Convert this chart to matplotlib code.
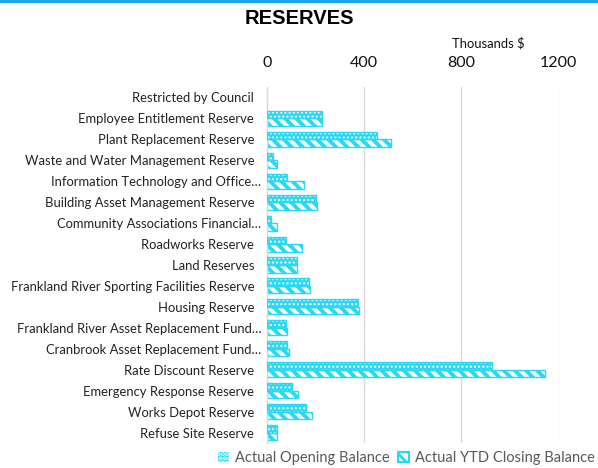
import matplotlib
matplotlib.use("Agg")
import matplotlib.pyplot as plt
import numpy as np
from matplotlib.patches import Patch
from matplotlib.transforms import ScaledTranslation

categories = [
    "Restricted by Council",
    "Employee Entitlement Reserve",
    "Plant Replacement Reserve",
    "Waste and Water Management Reserve",
    "Information Technology and Office…",
    "Building Asset Management Reserve",
    "Community Associations Financial…",
    "Roadworks Reserve",
    "Land Reserves",
    "Frankland River Sporting Facilities Reserve",
    "Housing Reserve",
    "Frankland River Asset Replacement Fund…",
    "Cranbrook Asset Replacement Fund…",
    "Rate Discount Reserve",
    "Emergency Response Reserve",
    "Works Depot Reserve",
    "Refuse Site Reserve",
]
opening = [0, 226, 452, 27, 85, 203, 18, 79, 123, 174, 374, 79, 85, 925, 106, 162, 41]
closing = [0, 226, 510, 41, 155, 206, 41, 147, 126, 177, 381, 82, 90, 1145, 127, 185, 44]
ticks = [0, 400, 800, 1200]
series_names = ["Actual Opening Balance", "Actual YTD Closing Balance"]

CYAN = "#2ad8f4"
FONT = ["Lato", "DejaVu Sans"]
plt.rcParams["font.family"] = FONT

fig = plt.figure(figsize=(5.98, 4.68), dpi=100)
ax = fig.add_axes([266.7 / 598, 1 - 443 / 468, (558.7 - 266.7) / 598, (443 - 87) / 468])

y = np.arange(len(categories))
h = 0.36
lw_open = [1.0 if v > 0 else 0 for v in opening]
lw_close = [1.0 if v > 0 else 0 for v in closing]

with plt.rc_context({"hatch.linewidth": 1.0}):
    ax.barh(y - h / 2, opening, height=h, color=CYAN, edgecolor="none", zorder=2)
    ax.barh(y - h / 2, opening, height=h, facecolor="none", edgecolor="white",
            hatch="....", linewidth=0, zorder=3)
    ax.barh(y - h / 2, opening, height=h, facecolor="none", edgecolor=CYAN,
            linewidth=lw_open, zorder=4)
with plt.rc_context({"hatch.linewidth": 2.8}):
    ax.barh(y + h / 2, closing, height=h, facecolor="white", edgecolor=CYAN,
            hatch="\\\\\\", linewidth=lw_close, zorder=2)

ax.set_ylim(len(categories) - 0.5, -0.5)
ax.set_xlim(0, 1200)
ax.set_xticks(ticks)
ax.xaxis.tick_top()
ax.tick_params(axis="x", length=0, pad=12, labelsize=11.5, labelcolor="#111111")
ax.set_yticks(y)
ax.set_yticklabels(categories, fontsize=9.4, color="#222222")
ax.tick_params(axis="y", length=0, pad=9)
ax.grid(axis="x", color="#d9d9d9", linewidth=1.0, zorder=0)
for s in ["top", "right", "bottom"]:
    ax.spines[s].set_visible(False)
ax.spines["left"].set_color("#d9d9d9")
ax.spines["left"].set_linewidth(1.0)

for lab in ax.get_yticklabels():
    if lab.get_text().endswith("…"):
        lab.set_transform(lab.get_transform() + ScaledTranslation(7 / 100, 0, fig.dpi_scale_trans))

fig.text(0.5, 1 - 19 / 468, "RESERVES", ha="center", va="center",
         fontsize=14.5, fontweight="bold", family=["Liberation Sans", "DejaVu Sans"])
fig.text(488 / 598, 1 - 43 / 468, "Thousands $", ha="center", va="center",
         fontsize=9.4, color="#111111")

fig.add_artist(plt.Line2D([0, 596 / 598], [1 - 1 / 468, 1 - 1 / 468], color="#1aa3e8",
                          linewidth=2.2, transform=fig.transFigure))

with plt.rc_context({"hatch.linewidth": 1.0}):
    h1 = Patch(facecolor=CYAN, edgecolor="white", hatch="....", linewidth=0)
with plt.rc_context({"hatch.linewidth": 2.0}):
    h2 = Patch(facecolor="white", edgecolor=CYAN, hatch="\\\\\\", linewidth=1.5)
    fig.legend([h1, h2], series_names, loc="center", bbox_to_anchor=(406.5 / 598, 1 - 458 / 468),
               ncol=2, frameon=False, fontsize=10.5, labelcolor="#595959",
               handlelength=0.75, handleheight=0.75, handletextpad=0.4, columnspacing=0.6,
               borderpad=0, borderaxespad=0)

fig.savefig("out.png", dpi=100)
